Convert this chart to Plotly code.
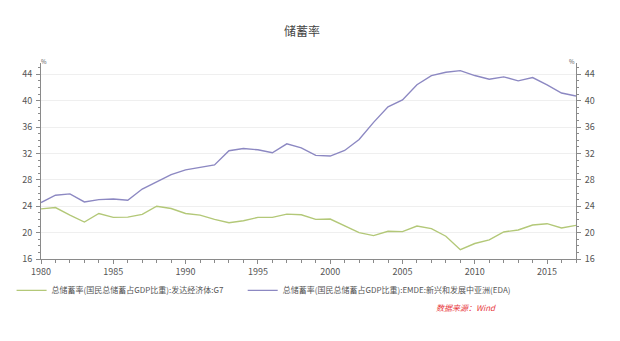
import plotly.graph_objects as go

years = list(range(1980, 2018))
g7 = [23.6, 23.8, 22.65, 21.6, 22.9, 22.3, 22.35, 22.75, 24.0, 23.65,
      22.9, 22.65, 22.0, 21.5, 21.8, 22.3, 22.3, 22.8, 22.7, 22.0,
      22.05, 21.0, 20.0, 19.55, 20.2, 20.15, 21.0, 20.6, 19.45, 17.4,
      18.35, 18.9, 20.1, 20.4, 21.15, 21.35, 20.7, 21.1]
eda = [24.55, 25.67, 25.87, 24.65, 25.0, 25.1, 24.9, 26.6, 27.7, 28.8,
       29.5, 29.9, 30.25, 32.4, 32.75, 32.55, 32.1, 33.45, 32.85, 31.7,
       31.6, 32.45, 34.1, 36.7, 39.05, 40.1, 42.4, 43.8, 44.3, 44.55,
       43.8, 43.25, 43.6, 43.0, 43.5, 42.4, 41.15, 40.7]
name_g7 = "总储蓄率(国民总储蓄占GDP比重):发达经济体:G7"
name_eda = "总储蓄率(国民总储蓄占GDP比重):EMDE:新兴和发展中亚洲(EDA)"
title = "储蓄率"
source = "数据来源：Wind"

GREEN = "#b3c878"
PURPLE = "#8c88c2"
FONT = "Noto Sans CJK SC"

fig = go.Figure()
fig.add_trace(go.Scatter(x=years, y=g7, mode="lines", name=name_g7,
                         line=dict(color=GREEN, width=1.4), legend="legend"))
fig.add_trace(go.Scatter(x=years, y=eda, mode="lines", name=name_eda,
                         line=dict(color=PURPLE, width=1.4), legend="legend2"))
fig.add_trace(go.Scatter(x=years, y=eda, mode="lines", yaxis="y2", opacity=0,
                         showlegend=False, hoverinfo="skip",
                         line=dict(color=PURPLE, width=0.1)))

yr = [16, 45.7]
axcommon = dict(showline=True, linecolor="#8a8a8a", linewidth=1,
                ticks="outside", ticklen=4, tickcolor="#8a8a8a",
                tickfont=dict(size=9, color="#555555", family=FONT))
fig.update_layout(
    width=620, height=341,
    margin=dict(l=33, r=44, t=63, b=82),
    paper_bgcolor="white", plot_bgcolor="white",
    font=dict(family=FONT, color="#444444"),
    title=dict(text=title, x=0.487, xanchor="center", y=0.907, yanchor="middle",
               font=dict(size=12, color="#444444", family=FONT, weight="normal")),
    xaxis=dict(range=[1980, 2017], dtick=5, tick0=1980, showgrid=False,
               zeroline=False,
               minor=dict(dtick=1, ticks="outside", ticklen=3, tickcolor="#8a8a8a"),
               **axcommon),
    yaxis=dict(range=yr, dtick=4, tick0=16, showgrid=True, gridcolor="#efefef",
               gridwidth=1, zeroline=False, ticklabelstandoff=2,
               minor=dict(dtick=1, ticks="outside", ticklen=2, tickcolor="#8a8a8a"),
               **axcommon),
    yaxis2=dict(range=yr, dtick=4, tick0=16, overlaying="y", side="right",
                showgrid=False, zeroline=False, ticklabelstandoff=2,
                minor=dict(dtick=1, ticks="outside", ticklen=2, tickcolor="#8a8a8a"),
                **axcommon),
    legend=dict(x=-0.055, y=-0.16, xanchor="left", yanchor="middle",
                orientation="h", bgcolor="rgba(0,0,0,0)",
                font=dict(size=8, color="#555555", family=FONT)),
    legend2=dict(x=0.377, y=-0.16, xanchor="left", yanchor="middle",
                 orientation="h", bgcolor="rgba(0,0,0,0)",
                 font=dict(size=8, color="#555555", family=FONT)),
    showlegend=True,
)
fig.add_annotation(text="%", xref="paper", yref="paper", x=0.0, y=1.0,
                   xanchor="left", yanchor="bottom", showarrow=False,
                   xshift=-2, yshift=-5,
                   font=dict(size=6, color="#555555"))
fig.add_annotation(text="%", xref="paper", yref="paper", x=1.0, y=1.0,
                   xanchor="right", yanchor="bottom", showarrow=False,
                   xshift=1, yshift=-5,
                   font=dict(size=6, color="#555555"))
fig.add_annotation(text="<i>" + source + "</i>", xref="paper", yref="paper",
                   x=(497 - 33) / 543, y=-0.245, xanchor="right", yanchor="middle",
                   showarrow=False, font=dict(size=8, color="#e8383d", family=FONT))

fig.write_html("out.html")
